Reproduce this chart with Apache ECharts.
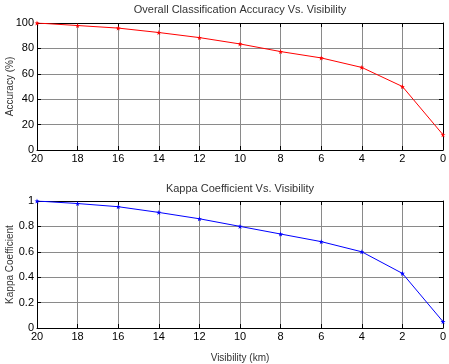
<!DOCTYPE html>
<html>
<head>
<meta charset="utf-8">
<script src="https://cdn.jsdelivr.net/npm/echarts@6/dist/echarts.min.js"></script>
<style>
  html, body { margin: 0; padding: 0; background: #fff; }
  #chart { width: 449px; height: 364px; }
</style>
</head>
<body>
<div id="chart"></div>
<script>
// data
var visibility = [20, 18, 16, 14, 12, 10, 8, 6, 4, 2, 0];
var accuracy = [100, 98, 96, 92.5, 88.5, 83.5, 77.5, 72.5, 65, 50, 12];
var kappa = [1, 0.98, 0.955, 0.91, 0.86, 0.80, 0.74, 0.68, 0.60, 0.43, 0.05];

function pairs(xs, ys) {
    var out = [];
    for (var i = 0; i < xs.length; i++) out.push([xs[i], ys[i]]);
    return out;
}

var FONT = 'Liberation Sans';
var star = 'path://M0,-5L1.2,-1.6L4.8,-1.6L1.9,0.6L2.9,4L0,2L-2.9,4L-1.9,0.6L-4.8,-1.6L-1.2,-1.6Z';

function xAxisDef(gi, show) {
    return {
        type: 'value', gridIndex: gi, min: 0, max: 20, interval: 2, inverse: true,
        position: show ? 'bottom' : 'top',
        axisLine: { show: true, onZero: false, lineStyle: { color: '#000', width: 1 } },
        axisTick: { show: true, inside: true, length: 4, lineStyle: { color: '#000' } },
        axisLabel: { show: show, color: '#000', fontSize: 11, fontFamily: FONT, margin: 3 },
        splitLine: { show: show, lineStyle: { color: '#8a8a8a', width: 1 } }
    };
}
function yAxisDef(gi, show, max, interval, name) {
    return {
        type: 'value', gridIndex: gi, min: 0, max: max, interval: interval,
        position: show ? 'left' : 'right',
        name: show ? name : '', nameLocation: 'middle', nameGap: 22, nameRotate: 90,
        nameMoveOverlap: false,
        nameTextStyle: { color: '#333', fontSize: 10, fontFamily: FONT },
        axisLine: { show: true, onZero: false, lineStyle: { color: '#000', width: 1 } },
        axisTick: { show: true, inside: true, length: 4, lineStyle: { color: '#000' } },
        axisLabel: { show: show, color: '#000', fontSize: 11, fontFamily: FONT, margin: 3 },
        splitLine: { show: show, lineStyle: { color: '#8a8a8a', width: 1 } }
    };
}

function titleDef(text, top, size) {
    return {
        text: text, left: 240, top: top, textAlign: 'center', padding: 0,
        textStyle: { fontSize: size, fontWeight: 'normal', color: '#333', fontFamily: FONT }
    };
}

var chart = echarts.init(document.getElementById('chart'));
chart.setOption({
    animation: false,
    backgroundColor: '#fff',
    title: [
        titleDef('Overall Classification Accuracy Vs. Visibility', 4, 11),
        titleDef('Kappa Coefficient Vs. Visibility', 183, 11),
        titleDef('Visibility (km)', 353, 10)
    ],
    grid: [
        { left: 37, top: 23, width: 406, height: 127, outerBoundsMode: 'none', containLabel: false },
        { left: 37, top: 201, width: 406, height: 127, outerBoundsMode: 'none', containLabel: false }
    ],
    xAxis: [xAxisDef(0, true), xAxisDef(0, false), xAxisDef(1, true), xAxisDef(1, false)],
    yAxis: [
        yAxisDef(0, true, 100, 20, 'Accuracy (%)'), yAxisDef(0, false, 100, 20, ''),
        yAxisDef(1, true, 1, 0.2, 'Kappa Coefficient'), yAxisDef(1, false, 1, 0.2, '')
    ],
    series: [
        { type: 'line', xAxisIndex: 0, yAxisIndex: 0, data: pairs(visibility, accuracy),
          symbol: star, symbolSize: 5, showAllSymbol: true,
          lineStyle: { color: '#ff0000', width: 1 }, itemStyle: { color: '#ff0000' } },
        { type: 'line', xAxisIndex: 2, yAxisIndex: 2, data: pairs(visibility, kappa),
          symbol: star, symbolSize: 5, showAllSymbol: true,
          lineStyle: { color: '#0000ff', width: 1 }, itemStyle: { color: '#0000ff' } }
    ]
});
</script>
</body>
</html>
